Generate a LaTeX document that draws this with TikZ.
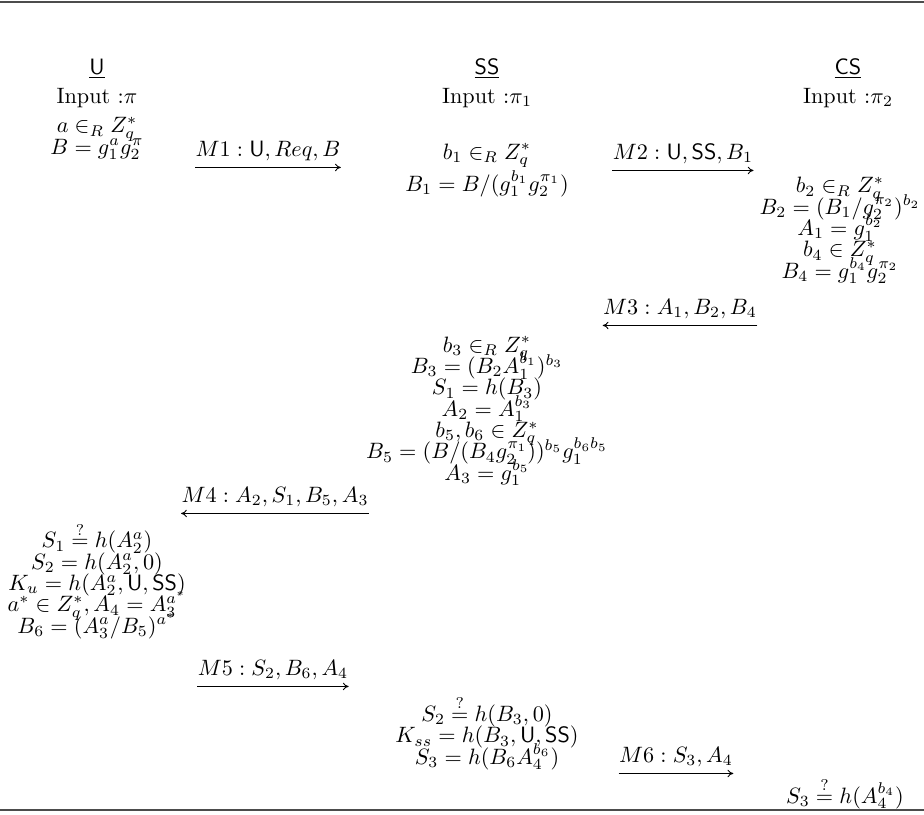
\documentclass[tikz,border=0pt]{standalone}
\usepackage{amsmath,amssymb}
\usetikzlibrary{arrows.meta}
\begin{document}
\begin{tikzpicture}[x=0.45pt,y=-0.45pt,
  party/.style={anchor=base,inner sep=0pt},
  calc/.style={align=center,anchor=base,inner sep=0pt,
    execute at begin node={\baselineskip=9.6pt\lineskiplimit=-\maxdimen}},
  msg/.style={anchor=base,inner sep=0pt},
  flow/.style={-{To[length=2.6pt,width=3.4pt]},line width=0.4pt}]
\useasboundingbox (0,0) rectangle (924,814);
\draw[black!70,line width=0.9pt] (0,1.5) -- (924,1.5);
\draw[black!70,line width=0.9pt] (0,810) -- (924,810);
% parties
\node[party] (u) at (97,74) {\underline{\textsf{U}}};
\node[party] (ss) at (487,74) {\underline{\textsf{SS}}};
\node[party] (cs) at (848,74) {\underline{\textsf{CS}}};
\node[party] (inu) at (97,103) {Input :$\pi$};
\node[party] (inss) at (487,103) {Input :$\pi_1$};
\node[party] (incs) at (848,103) {Input :$\pi_2$};
% U, step 1 (base = last line)
\node[calc] (u1) at (97,154) {$a\in_R Z_q^*$\\ $B=g_1^a g_2^\pi$};
\node[msg] (m1) at (268,156) {$M1:\mathsf{U},Req,B$};
\draw[flow] ([yshift=-3pt]m1.south west) -- ([yshift=-3pt]m1.south east);
% SS, step 1
\node[calc] (ss1) at (487,159) {$b_1\in_R Z_q^*$};
\node[calc] (ss2) at (487,191) {$B_1=B/(g_1^{b_1}g_2^{\pi_1})$};
\node[msg] (m2) at (683,159) {$M2:\mathsf{U},\mathsf{SS},B_1$};
\draw[flow] ([yshift=-3pt]m2.south west) -- ([yshift=-3pt]m2.south east);
% CS
\node[calc] (cs1) at (840,278) {$b_2\in_R Z_q^*$\\ $B_2=(B_1/g_2^{\pi_2})^{b_2}$\\
  $A_1=g_1^{b_2}$\\ $b_4\in Z_q^*$\\ $B_4=g_1^{b_4}g_2^{\pi_2}$};
\node[msg] (m3) at (680,314) {$M3:A_1,B_2,B_4$};
\draw[flow] ([yshift=-3pt]m3.south east) -- ([yshift=-3pt]m3.south west);
% SS, step 2
\node[calc] (ss3) at (487,480) {$b_3\in_R Z_q^*$\\ $B_3=(B_2A_1^{b_1})^{b_3}$\\
  $S_1=h(B_3)$\\ $A_2=A_1^{b_3}$\\ $b_5,b_6\in Z_q^*$\\
  $B_5=(B/(B_4g_2^{\pi_1}))^{b_5}g_1^{b_6b_5}$\\ $A_3=g_1^{b_5}$};
\node[msg] (m4) at (275,502) {$M4:A_2,S_1,B_5,A_3$};
\draw[flow] ([yshift=-3pt]m4.south east) -- ([yshift=-3pt]m4.south west);
% U, step 2
\node[calc] (u2) at (97,633) {$S_1\stackrel{?}{=}h(A_2^a)$\\ $S_2=h(A_2^a,0)$\\
  $K_u=h(A_2^a,\mathsf{U},\mathsf{SS})$\\ $a^*\in Z_q^*,A_4=A_3^{a^*}$\\
  $B_6=(A_3^a/B_5)^{a^*}$};
\node[msg] (m5) at (273,675) {$M5:S_2,B_6,A_4$};
\draw[flow] ([yshift=-3pt]m5.south west) -- ([yshift=-3pt]m5.south east);
% SS, step 3
\node[calc] (ss4) at (487,764) {$S_2\stackrel{?}{=}h(B_3,0)$\\
  $K_{ss}=h(B_3,\mathsf{U},\mathsf{SS})$\\ $S_3=h(B_6A_4^{b_6})$};
\node[msg] (m6) at (676,762) {$M6:S_3,A_4$};
\draw[flow] ([yshift=-3pt]m6.south west) -- ([yshift=-3pt]m6.south east);
% CS, check
\node[calc] (cs2) at (845,803) {$S_3\stackrel{?}{=}h(A_4^{b_4})$};
\end{tikzpicture}
\end{document}
